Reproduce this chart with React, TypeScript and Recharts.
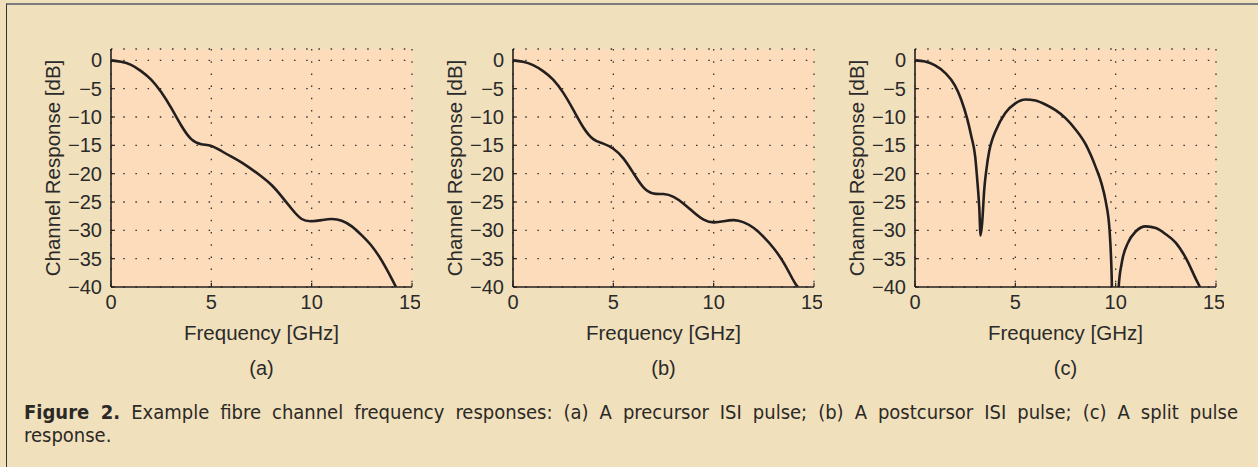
import React from 'react';
import { LineChart, Line, XAxis, YAxis, CartesianGrid } from 'recharts';

// ---- data ----
const freqA = [0, 0.5, 1.0, 1.5, 2.0, 2.5, 3.0, 3.5, 4.0, 4.5, 5.0, 5.5, 6.0, 6.5, 7.0, 7.5, 8.0, 8.5, 9.0, 9.5, 10.0, 10.5, 11.0, 11.5, 12.0, 12.5, 13.0, 13.5, 14.0, 14.2];
const respA = [0, -0.25, -0.8, -1.9, -3.4, -5.6, -8.4, -11.5, -13.9, -14.8, -15.1, -16.0, -17.0, -18.0, -19.2, -20.5, -22.0, -24.0, -26.2, -28.0, -28.4, -28.2, -28.0, -28.3, -29.3, -30.9, -32.8, -35.4, -38.6, -40];

const freqB = [0, 0.5, 1.0, 1.5, 2.0, 2.5, 3.0, 3.5, 4.0, 4.5, 5.0, 5.5, 6.0, 6.5, 7.0, 7.5, 8.0, 8.5, 9.0, 9.5, 10.0, 10.5, 11.0, 11.5, 12.0, 12.5, 13.0, 13.5, 14.0, 14.2];
const respB = [0, -0.25, -0.85, -1.9, -3.4, -5.7, -8.7, -11.8, -13.9, -14.7, -15.6, -17.3, -19.9, -22.4, -23.5, -23.6, -24.1, -25.3, -26.8, -28.1, -28.6, -28.4, -28.2, -28.6, -29.6, -31.2, -33.2, -35.8, -39.0, -40];

const freqC = [0, 0.5, 1.0, 1.5, 2.0, 2.3, 2.6, 2.8, 3.0, 3.1, 3.2, 3.27, 3.35, 3.45, 3.55, 3.7, 3.85, 4.0, 4.5, 5.0, 5.5, 6.0, 6.5, 7.0, 7.5, 8.0, 8.5, 9.0, 9.3, 9.5, 9.7, 9.8, 9.98, 10.02, 10.15, 10.3, 10.6, 11.0, 11.5, 12.0, 12.5, 13.0, 13.5, 14.0, 14.2];
const respC = [0, -0.2, -0.9, -2.2, -4.5, -6.9, -10.3, -13.3, -17.0, -21.0, -25.8, -30.9, -28.5, -22.8, -19.5, -16.0, -14.0, -12.6, -9.3, -7.6, -6.9, -7.1, -7.8, -8.8, -10.2, -12.2, -14.8, -18.8, -21.8, -24.8, -30.2, -38.0, -80, -80, -40, -35.8, -32.3, -30.2, -29.3, -29.6, -30.7, -32.2, -34.9, -38.6, -40];

const xTicks = [0, 5, 10, 15];
const yTicks = [-40, -35, -30, -25, -20, -15, -10, -5, 0];
const panelTags = ['(a)', '(b)', '(c)'];
const xTitle = 'Frequency [GHz]';
const yTitle = 'Channel Response [dB]';
const captionBold = 'Figure 2.';
const captionLine1 = ' Example fibre channel frequency responses: (a) A precursor ISI pulse; (b) A postcursor ISI pulse; (c) A split pulse';
const captionLine2 = 'response.';

const OUTER_BG = '#f1e0bc';
const PLOT_BG = '#fddcbc';
const INK = '#231f1e';
const FONT = '"Liberation Sans", Arial, Helvetica, sans-serif';

const fmtY = (v: number) => (v < 0 ? '\u2212' + Math.abs(v) : String(v));

function Panel(props: { freq: number[]; resp: number[]; left: number; tag: string; curve: 'natural' | 'monotone' }) {
  const { freq, resp, left, tag, curve } = props;
  const data = freq.map((f, i) => ({ f, r: resp[i] }));
  const tickStyle = { fontSize: 20, fill: '#2a2a2a', fontFamily: FONT };
  return (
    <div style={{ position: 'absolute', left, top: 0 }}>
      <LineChart width={420} height={385} data={data} margin={{ top: 49, right: 8, bottom: 38, left: 51 }}>
        <CartesianGrid fill={PLOT_BG} stroke="#333" strokeWidth={1.3} strokeDasharray="1.5 10.7" />
        <XAxis
          dataKey="f"
          type="number"
          domain={[0, 15]}
          ticks={xTicks}
          allowDataOverflow
          height={60}
          tickSize={-4}
          tickMargin={12}
          tick={tickStyle}
          axisLine={{ stroke: INK, strokeWidth: 1.6 }}
          tickLine={{ stroke: INK, strokeWidth: 1.2 }}
          label={(p: any) => {
            const vb = p.viewBox;
            const cx = vb.x + vb.width / 2;
            return (
              <g>
                <text x={cx} y={vb.y + 45} textAnchor="middle" dominantBaseline="central" fontSize={20.5} fill="#2a2a2a" fontFamily={FONT}>{xTitle}</text>
                <text x={cx} y={vb.y + 81} textAnchor="middle" dominantBaseline="central" fontSize={20} fill="#2a2a2a" fontFamily={FONT}>{tag}</text>
              </g>
            );
          }}
        />
        <XAxis
          xAxisId="top"
          orientation="top"
          dataKey="f"
          type="number"
          domain={[0, 15]}
          ticks={xTicks}
          allowDataOverflow
          height={0}
          tickSize={-4}
          tickFormatter={() => ''}
          axisLine={{ stroke: INK, strokeWidth: 1.6 }}
          tickLine={{ stroke: INK, strokeWidth: 1.2 }}
        />
        <YAxis
          type="number"
          domain={[-40, 2]}
          ticks={yTicks}
          allowDataOverflow
          width={60}
          tickSize={-4}
          tickMargin={13}
          tick={tickStyle}
          tickFormatter={fmtY}
          axisLine={{ stroke: INK, strokeWidth: 1.6 }}
          tickLine={{ stroke: INK, strokeWidth: 1.2 }}
          label={(p: any) => {
            const vb = p.viewBox;
            const x = vb.x + vb.width - 59;
            const y = vb.y + vb.height / 2;
            return (
              <text x={x} y={y} transform={`rotate(-90 ${x} ${y})`} textAnchor="middle" dominantBaseline="central" fontSize={20.5} fill="#2a2a2a" fontFamily={FONT}>{yTitle}</text>
            );
          }}
        />
        <YAxis
          yAxisId="right"
          orientation="right"
          type="number"
          domain={[-40, 2]}
          ticks={yTicks}
          allowDataOverflow
          width={0}
          tickSize={-4}
          tickFormatter={() => ''}
          axisLine={{ stroke: INK, strokeWidth: 1.6 }}
          tickLine={{ stroke: INK, strokeWidth: 1.2 }}
        />
        <Line type={curve} dataKey="r" stroke={INK} strokeWidth={2.6} dot={false} activeDot={false} isAnimationActive={false} />
      </LineChart>
    </div>
  );
}

export default function App() {
  return (
    <div style={{ position: 'fixed', left: 0, top: 0, width: 1258, height: 467, background: OUTER_BG, overflow: 'hidden' }}>
      <div style={{ position: 'absolute', left: 6, top: 3, width: 1260, height: 470, borderTop: '2px solid #7c7c7c', borderLeft: '1.5px solid #333' }} />
      <Panel freq={freqA} resp={respA} left={0} tag={panelTags[0]} curve="natural" />
      <Panel freq={freqB} resp={respB} left={402} tag={panelTags[1]} curve="natural" />
      <Panel freq={freqC} resp={respC} left={804} tag={panelTags[2]} curve="monotone" />
      <div style={{ position: 'absolute', left: 24, top: 401, width: 1214, fontFamily: '"DejaVu Sans Condensed", "DejaVu Sans", sans-serif', fontSize: 20, color: '#2b2926', lineHeight: '23px' }}>
        <div style={{ textAlign: 'justify', textAlignLast: 'justify', whiteSpace: 'nowrap' }}>
          <b>{captionBold}</b>{captionLine1}
        </div>
        <div>{captionLine2}</div>
      </div>
    </div>
  );
}
